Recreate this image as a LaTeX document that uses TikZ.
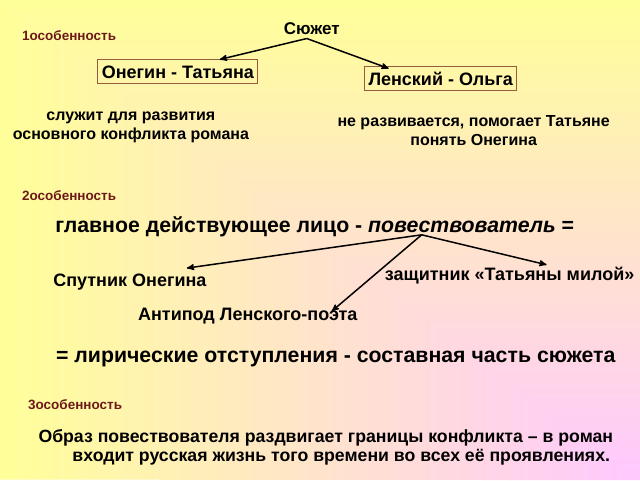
\documentclass[tikz,border=0pt]{standalone}
\usepackage{fontspec}
\setmainfont{Liberation Sans}
\usetikzlibrary{arrows}
\definecolor{fonY}{RGB}{255,255,153}
\definecolor{fonP}{RGB}{255,200,255}
\definecolor{ramka}{RGB}{150,90,60}
\definecolor{osobcol}{RGB}{110,25,25}

\begin{document}
\begin{tikzpicture}[x=1pt,y=-1pt,
  osob/.style={text=osobcol,font=\bfseries\fontsize{13.5}{15}\selectfont,anchor=west,inner sep=0pt},
  box/.style={draw=ramka,line width=1pt,font=\bfseries\fontsize{18}{21}\selectfont,minimum height=24pt,inner xsep=4pt},
  note/.style={align=center,font=\bfseries\fontsize{16}{19}\selectfont},
  mid/.style={font=\bfseries\fontsize{18}{21}\selectfont},
  big/.style={font=\bfseries\fontsize{21.3}{25}\selectfont},
  strel/.style={line width=1.5pt,->,>=stealth'}]
% fon
\shade[left color=fonY,right color=fonP] (0,0) -- (640.5,480.5) -- (0,480) -- cycle;
\shade[top color=fonY,bottom color=fonP] (0,0) -- (640,0) -- (640,480) -- (639.5,480.5) -- cycle;

% 1
\node[osob] (o1) at (22,36) {1особенность};
\node[mid,font=\bfseries\fontsize{17}{20}\selectfont] (sj) at (312,29) {Сюжет};
\node[box] (ot) at (178,72) {Онегин - Татьяна};
\node[box] (ls) at (441,79) {Ленский - Ольга};
\node[note] (n1) at (131,127) {служит для развития\\основного конфликта романа};
\node[note] (n2) at (474,131) {не развивается, помогает Татьяне\\понять Онегина};
\draw[strel] ([xshift=-5pt]sj.south) -- ([xshift=42pt]ot.north);
\draw[strel] ([xshift=-5pt]sj.south) -- ([xshift=-52pt,yshift=-2pt]ls.north);

% 2
\node[osob] (o2) at (22,196) {2особенность};
\node[big] (gl) at (315,227) {главное действующее лицо - \textit{повествователь} =};
\coordinate (razv) at (422,235);
\node[mid] (sp) at (130,282) {Спутник Онегина};
\node[mid] (zs) at (510,276) {защитник «Татьяны милой»};
\node[mid] (an) at (248,316) {Антипод Ленского-поэта};
\draw[strel] (razv) -- ([xshift=57pt,yshift=2pt]sp.north);
\draw[strel] (razv) -- ([xshift=84pt,yshift=-7pt]an.north);
\draw[strel] (razv) -- ([xshift=37pt,yshift=-1pt]zs.north);
\node[big] (lir) at (336,359) {= лирические отступления - составная часть сюжета};

% 3
\node[osob] (o3) at (28,405) {3особенность};
\node[note,align=left,anchor=west,font=\bfseries\fontsize{17.7}{19}\selectfont] (obr) at (35,448)
  {Образ повествователя раздвигает границы конфликта – в роман\\\hspace*{34pt}входит русская жизнь того времени во всех её проявлениях.};
\end{tikzpicture}
\end{document}
